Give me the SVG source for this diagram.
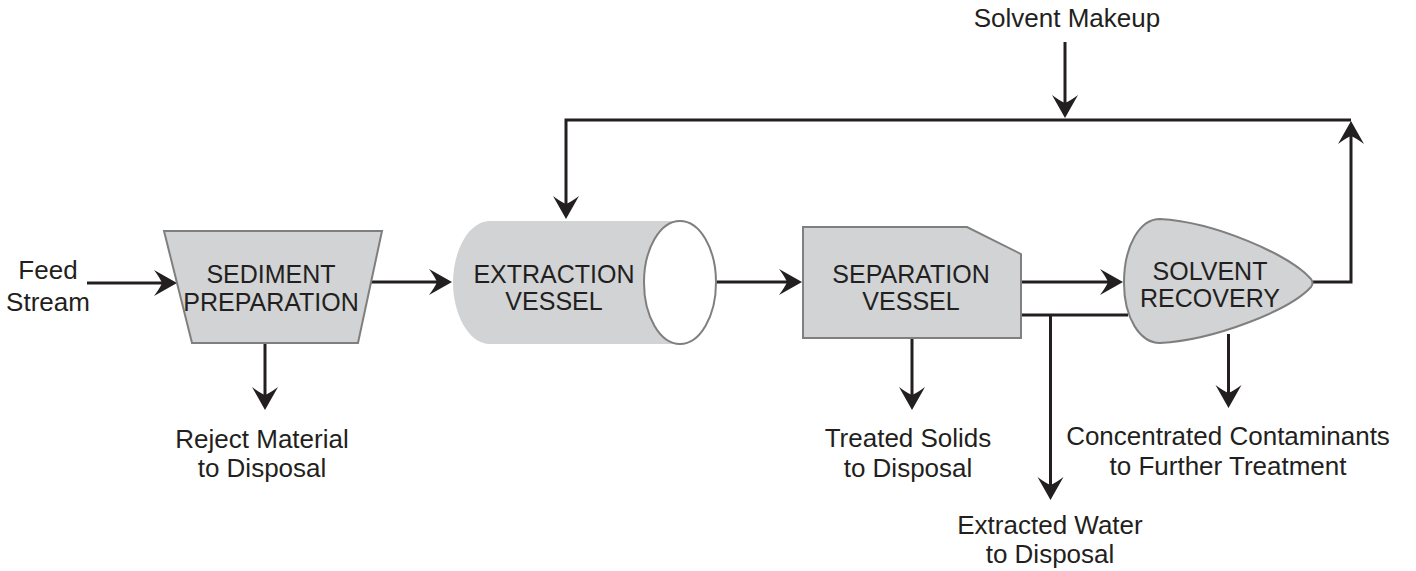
<svg xmlns="http://www.w3.org/2000/svg" width="1416" height="571" viewBox="0 0 1416 571">
<style>
.shape{fill:#d1d3d4;stroke:#7f7f7f;stroke-width:2}
.conn{fill:none;stroke:#231f20;stroke-width:3}
.arr{marker-end:url(#ah)}
.nl{font-family:"Liberation Sans",Arial,sans-serif;font-size:25px;fill:#231f20;text-anchor:middle}
.lb{font-family:"Liberation Sans",Arial,sans-serif;font-size:26px;fill:#231f20;text-anchor:middle}
</style>
<defs>
<marker id="ah" markerUnits="userSpaceOnUse" markerWidth="24" markerHeight="26" viewBox="0 0 24 26" refX="8" refY="13" orient="auto" overflow="visible">
<path d="M23,13 L0,0 Q6,8 8,13 Q6,18 0,26 Z" fill="#231f20"/>
</marker>
</defs>
<rect width="1416" height="571" fill="#ffffff"/>

<g id="connectors">
<line class="conn arr" x1="87" y1="283" x2="162" y2="283"/>
<line class="conn arr" x1="371" y1="282" x2="437" y2="282"/>
<line class="conn arr" x1="687" y1="282" x2="787" y2="282"/>
<line class="conn arr" x1="1021" y1="282" x2="1108" y2="282"/>
<polyline class="conn" points="1021,315 1128,315"/>
<line class="conn arr" x1="1050.5" y1="315" x2="1050.5" y2="485"/>
<polyline class="conn arr" points="1313,282 1351,282 1351,136"/>
<polyline class="conn arr" points="1351,120 566,120 566,204"/>
<line class="conn arr" x1="1065" y1="42" x2="1065" y2="103"/>
<line class="conn arr" x1="265" y1="343" x2="265" y2="395"/>
<line class="conn arr" x1="912" y1="338" x2="912" y2="395"/>
<line class="conn arr" x1="1228.5" y1="334" x2="1228.5" y2="393"/>
</g>

<g id="sediment-preparation">
<polygon class="shape" points="164,231 382,231 358,343 192,343"/>
<text class="nl" x="271" y="283">SEDIMENT</text>
<text class="nl" x="271" y="311">PREPARATION</text>
</g>

<g id="extraction-vessel">
<path d="M680,221 L490,221 C468,221 453,252 453,282.5 C453,313 468,344 490,344 L680,344 Z" fill="#d1d3d4"/>
<ellipse cx="680" cy="282.5" rx="36" ry="61.5" fill="#ffffff" stroke="#7f7f7f" stroke-width="2"/>
<text class="nl" x="554" y="283">EXTRACTION</text>
<text class="nl" x="554" y="310">VESSEL</text>
</g>

<g id="separation-vessel">
<polygon class="shape" points="803,227 967,227 1021,254 1021,338 803,338"/>
<text class="nl" x="911" y="283">SEPARATION</text>
<text class="nl" x="911" y="310">VESSEL</text>
</g>

<g id="solvent-recovery">
<path class="shape" d="M1124,283 C1124,245 1140,219 1160,219 C1215,222 1290,255 1311,279 Q1314,283 1311,287 C1290,310 1215,340 1160,343 C1140,343 1124,318 1124,283 Z"/>
<text class="nl" x="1210" y="280">SOLVENT</text>
<text class="nl" x="1210" y="307">RECOVERY</text>
</g>

<g id="labels">
<text class="lb" x="48" y="279">Feed</text>
<text class="lb" x="48" y="311">Stream</text>
<text class="lb" x="1067" y="27">Solvent Makeup</text>
<text class="lb" x="262" y="448">Reject Material</text>
<text class="lb" x="262" y="477">to Disposal</text>
<text class="lb" x="908" y="447">Treated Solids</text>
<text class="lb" x="908" y="477">to Disposal</text>
<text class="lb" x="1050" y="534">Extracted Water</text>
<text class="lb" x="1050" y="563">to Disposal</text>
<text class="lb" x="1228" y="445">Concentrated Contaminants</text>
<text class="lb" x="1228" y="475">to Further Treatment</text>
</g>
</svg>
